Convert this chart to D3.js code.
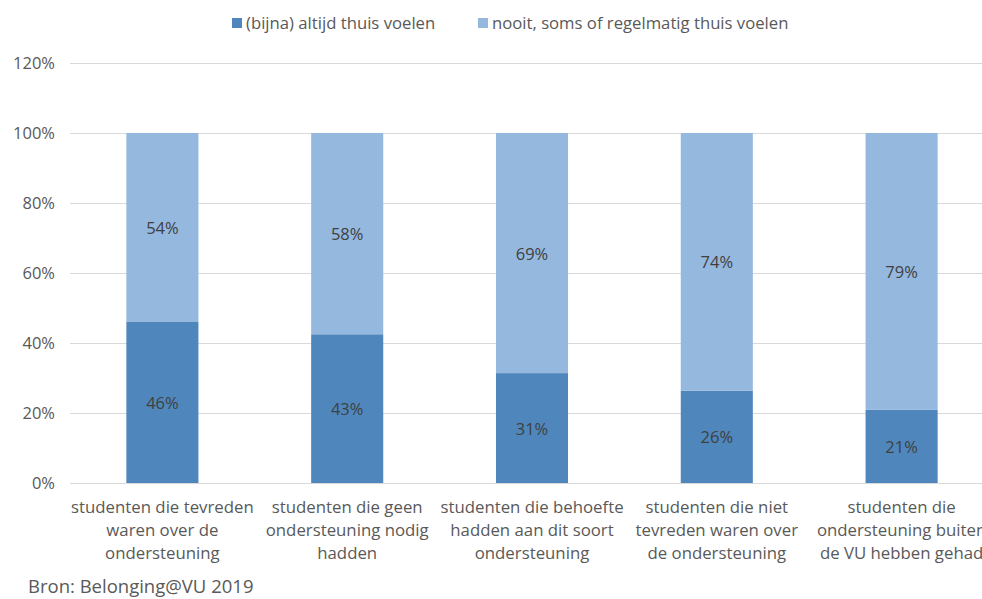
<!DOCTYPE html>
<html>
  <head>
    <script src="https://d3js.org/d3.v7.min.js"></script>
    <style>
      body { margin: 0px; background: #fff; }
      text { font-family: "Open Sans", sans-serif; }
      .tick text { fill: #595959; font-size: 16.5px; }
      .cat-label { fill: #595959; font-size: 16.8px; }
      .value-label { fill: #404040; font-size: 16.5px; }
      .legend-label { fill: #595959; font-size: 16.7px; }
    </style>
  </head>
  <body>
    <svg width="982" height="599"></svg>
    <script>
      // categories, each split over lines as in the picture
      var categories = [
        ["studenten die tevreden", "waren over de", "ondersteuning"],
        ["studenten die geen", "ondersteuning nodig", "hadden"],
        ["studenten die behoefte", "hadden aan dit soort", "ondersteuning"],
        ["studenten die niet", "tevreden waren over", "de ondersteuning"],
        ["studenten die", "ondersteuning buiten", "de VU hebben gehad"]
      ];
      var seriesNames = ["(bijna) altijd thuis voelen", "nooit, soms of regelmatig thuis voelen"];
      var altijd = [46, 42.5, 31.4, 26.4, 20.9];
      var nooit = [54, 57.5, 68.6, 73.6, 79.1];
      var yTicks = [0, 20, 40, 60, 80, 100, 120];
      var colors = ["#4f87bc", "#95b8df"];

      var margin = {left: 70, top: 63, bottom: 116};
      var width = 924, height = 599 - margin.top - margin.bottom;

      var svg = d3.select("svg");
      var g = svg.append("g")
        .attr("transform", "translate(" + margin.left + "," + margin.top + ")");

      var x = d3.scaleBand()
        .domain(d3.range(categories.length))
        .range([0, width])
        .paddingInner(0.61)
        .paddingOuter(0.305);
      var y = d3.scaleLinear().domain([0, 120]).range([height, 0]);

      // gridlines + y labels
      var yAxis = d3.axisLeft(y)
        .tickValues(yTicks)
        .tickSize(-width)
        .tickFormat(function (d) { return d + "%"; });
      var ya = g.append("g").call(yAxis);
      ya.select(".domain").remove();
      ya.selectAll(".tick line").attr("stroke", "#d9d9d9").attr("stroke-width", 1);
      ya.selectAll(".tick text").attr("x", -15);

      var rows = categories.map(function (c, i) {
        return {i: i, a: altijd[i], n: nooit[i]};
      });
      var stack = d3.stack().keys(["a", "n"])(rows);

      stack.forEach(function (layer, k) {
        g.selectAll(".bar" + k)
          .data(layer)
          .enter()
          .append("rect")
          .attr("x", function (d) { return x(d.data.i); })
          .attr("y", function (d) { return y(d[1]); })
          .attr("width", x.bandwidth())
          .attr("height", function (d) { return y(d[0]) - y(d[1]); })
          .attr("fill", colors[k]);

        g.selectAll(".lab" + k)
          .data(layer)
          .enter()
          .append("text")
          .attr("class", "value-label")
          .attr("text-anchor", "middle")
          .attr("dominant-baseline", "central")
          .attr("x", function (d) { return x(d.data.i) + x.bandwidth() / 2; })
          .attr("y", function (d) { return (y(d[0]) + y(d[1])) / 2; })
          .text(function (d) { return Math.round(d[1] - d[0]) + "%"; });
      });

      // category labels
      categories.forEach(function (lines, i) {
        var t = g.append("text")
          .attr("class", "cat-label")
          .attr("text-anchor", "middle")
          .attr("x", x(i) + x.bandwidth() / 2)
          .attr("y", height + 30);
        lines.forEach(function (l, j) {
          t.append("tspan")
            .attr("x", x(i) + x.bandwidth() / 2)
            .attr("dy", j === 0 ? 0 : 23)
            .text(l);
        });
      });

      // legend
      var legendX = [232, 478];
      seriesNames.forEach(function (s, k) {
        svg.append("rect")
          .attr("x", legendX[k]).attr("y", 18)
          .attr("width", 10).attr("height", 10)
          .attr("fill", colors[k]);
        svg.append("text")
          .attr("class", "legend-label")
          .attr("x", legendX[k] + 14).attr("y", 29)
          .text(s);
      });

      svg.append("text")
        .attr("x", 28).attr("y", 593)
        .style("fill", "#595959")
        .style("font-size", "18.5px")
        .text("Bron: Belonging@VU 2019");
    </script>
  </body>
</html>
